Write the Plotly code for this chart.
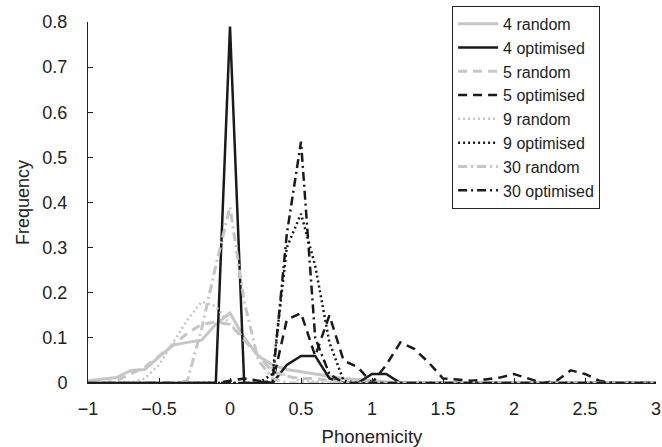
import plotly.graph_objects as go

phonemicity = [-1.0, -0.9, -0.8, -0.7, -0.6, -0.5, -0.4, -0.3, -0.2, -0.1,
               0.0, 0.1, 0.2, 0.3, 0.4, 0.5, 0.6, 0.7, 0.8, 0.9,
               1.0, 1.1, 1.2, 1.3, 1.4, 1.5, 1.6, 1.7, 1.8, 1.9,
               2.0, 2.1, 2.2, 2.3, 2.4, 2.5, 2.6, 2.7, 2.8, 2.9, 3.0]

r4 = [0.005, 0.008, 0.012, 0.028, 0.03, 0.058, 0.084, 0.09, 0.095, 0.13,
      0.155, 0.1, 0.06, 0.04, 0.03, 0.025, 0.02, 0.015, 0.01, 0.008,
      0.005, 0.003, 0, 0, 0, 0, 0, 0, 0, 0,
      0, 0, 0, 0, 0, 0, 0, 0, 0, 0, 0]
o4 = [0, 0, 0, 0, 0, 0, 0, 0, 0, 0,
      0.79, 0, 0, 0, 0.04, 0.06, 0.06, 0.01, 0, 0,
      0.02, 0.02, 0, 0, 0, 0, 0, 0, 0, 0,
      0, 0, 0, 0, 0, 0, 0, 0, 0, 0, 0]
r5 = [0, 0, 0.005, 0.02, 0.035, 0.06, 0.085, 0.11, 0.13, 0.135,
      0.13, 0.095, 0.06, 0.025, 0.015, 0.01, 0.01, 0.005, 0.003, 0,
      0, 0, 0, 0, 0, 0, 0, 0, 0, 0,
      0, 0, 0, 0, 0, 0, 0, 0, 0, 0, 0]
o5 = [0, 0, 0, 0, 0, 0, 0, 0, 0, 0,
      0.005, 0.01, 0.005, 0.0, 0.14, 0.155, 0.06, 0.15, 0.05, 0.035,
      0.0, 0.04, 0.09, 0.075, 0.045, 0.01, 0.008, 0.005, 0.008, 0.012,
      0.02, 0.01, 0.0, 0.005, 0.028, 0.02, 0.005, 0, 0, 0, 0]
r9 = [0, 0, 0, 0, 0.01, 0.04, 0.09, 0.14, 0.18, 0.17,
      0.13, 0.1, 0.06, 0.03, 0.015, 0.005, 0.003, 0, 0, 0,
      0, 0, 0, 0, 0, 0, 0, 0, 0, 0,
      0, 0, 0, 0, 0, 0, 0, 0, 0, 0, 0]
o9 = [0, 0, 0, 0, 0, 0, 0, 0, 0, 0,
      0, 0, 0, 0.02, 0.3, 0.375, 0.26, 0.09, 0.005, 0,
      0, 0, 0, 0, 0, 0, 0, 0, 0, 0,
      0, 0, 0, 0, 0, 0, 0, 0, 0, 0, 0]
r30 = [0, 0, 0, 0, 0, 0, 0, 0.005, 0.12, 0.26,
       0.39, 0.18, 0.05, 0.01, 0, 0, 0, 0, 0, 0,
       0, 0, 0, 0, 0, 0, 0, 0, 0, 0,
       0, 0, 0, 0, 0, 0, 0, 0, 0, 0, 0]
o30 = [0, 0, 0, 0, 0, 0, 0, 0, 0, 0,
       0, 0, 0, 0.005, 0.33, 0.535, 0.1, 0.02, 0, 0,
       0, 0, 0, 0, 0, 0, 0, 0, 0, 0,
       0, 0, 0, 0, 0, 0, 0, 0, 0, 0, 0]

names = ["4 random", "4 optimised", "5 random", "5 optimised",
         "9 random", "9 optimised", "30 random", "30 optimised"]
series = [r4, o4, r5, o5, r9, o9, r30, o30]

GRAY = "#c6c6c6"
BLACK = "#1a1a1a"
styles = [
    (GRAY, "solid", 3),
    (BLACK, "solid", 2.5),
    (GRAY, "9px,6px", 3),
    (BLACK, "9px,6px", 2.5),
    (GRAY, "2px,3px", 2.5),
    (BLACK, "2px,3px", 2.5),
    (GRAY, "9px,4px,2px,4px", 3),
    (BLACK, "9px,4px,2px,4px", 2.5),
]

fig = go.Figure()
for name, ys, (col, dash, w) in zip(names, series, styles):
    fig.add_trace(go.Scatter(x=phonemicity, y=ys, mode="lines", name=name,
                             line=dict(color=col, dash=dash, width=w),
                             cliponaxis=False))

FONT = "Liberation Sans, Arial, sans-serif"
fig.update_layout(
    width=662, height=447,
    margin=dict(l=88, r=6, t=22, b=64, autoexpand=False),
    paper_bgcolor="white", plot_bgcolor="white",
    font=dict(family=FONT, size=18, color="#222222"),
    showlegend=True,
    legend=dict(x=0.641, y=1.045, xanchor="left", yanchor="top",
                bgcolor="white", bordercolor="#222222", borderwidth=1,
                font=dict(size=16, family=FONT, color="#222222"),
                itemwidth=40, tracegroupgap=0),
    xaxis=dict(range=[-1, 3], tick0=-1, dtick=0.5, showgrid=False, zeroline=False,
               showline=True, linecolor="#222222", linewidth=1,
               ticks="inside", ticklen=5, tickcolor="#222222",
               ticklabelstandoff=9, automargin=False,
               title=dict(text="Phonemicity", standoff=12, font=dict(size=18.5))),
    yaxis=dict(range=[0, 0.8], tick0=0, dtick=0.1, showgrid=False, zeroline=False,
               showline=True, linecolor="#222222", linewidth=1,
               ticks="inside", ticklen=5, tickcolor="#222222",
               ticklabelstandoff=16, automargin=False,
               title=dict(text="Frequency", standoff=8, font=dict(size=18))),
)

fig.write_html("out.html")
